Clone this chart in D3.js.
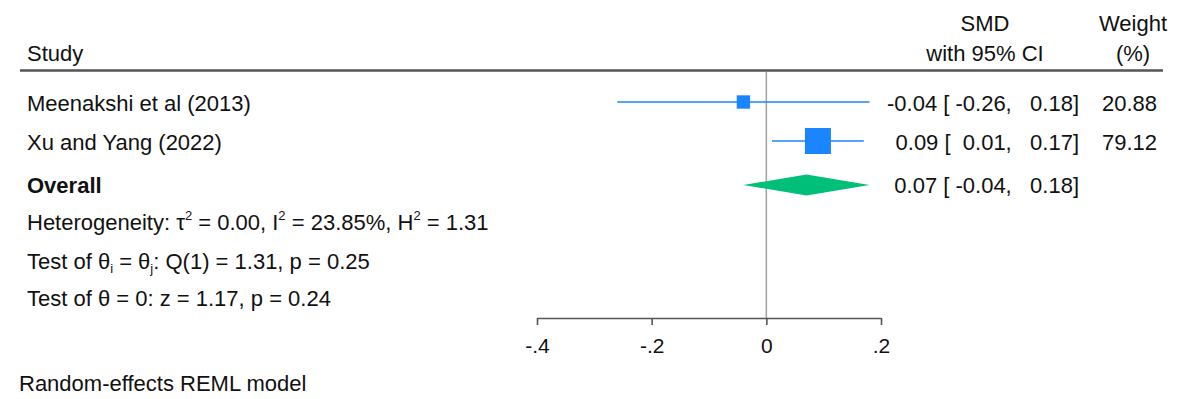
<!DOCTYPE html>
<html>
<head>
<meta charset="utf-8">
<script src="https://cdn.jsdelivr.net/npm/d3@7"></script>
<style>
  html, body { margin: 0; padding: 0; background: #fff; }
  svg { display: block; }
  text { font-family: "Liberation Sans", Arial, sans-serif; fill: #111; white-space: pre; }
</style>
</head>
<body>
<svg id="chart" width="1180" height="399"></svg>
<script>
// Study-level results
const studies = ["Meenakshi et al (2013)", "Xu and Yang (2022)"];
const smd = [-0.04, 0.09];
const ciLow = [-0.26, 0.01];
const ciHigh = [0.18, 0.17];
const weights = [20.88, 79.12];

// Pooled random-effects estimate
const overallLabel = "Overall";
const overallSMD = 0.07;
const overallLow = -0.04;
const overallHigh = 0.18;

// Axis ticks
const tickValues = [-0.4, -0.2, 0, 0.2];
const tickLabels = ["-.4", "-.2", "0", ".2"];

const W = 1180, H = 399;
const FS = 22;
const svg = d3.select("#chart");
svg.append("rect").attr("width", W).attr("height", H).attr("fill", "#fff");

const x = d3.scaleLinear().domain([-0.4, 0.2]).range([537, 881]);
const rowY = d3.scaleLinear().domain([0, 1]).range([102, 141]);
const overallY = 185;
const side = d3.scaleSqrt().domain([0, d3.max(weights)]).range([0, 26]);

const blue = "#1a85ff";
const green = "#00bf78";

const pad = v => { const s = v.toFixed(2); return s.length < 5 ? " " + s : s; };
const ciText = (e, l, h) => `${pad(e)} [ ${pad(l)},  ${pad(h)}]`;

// Column headers
const txt = (xp, yp, s, anchor, weight) => svg.append("text")
  .attr("x", xp).attr("y", yp).attr("font-size", FS)
  .attr("text-anchor", anchor || "start")
  .attr("font-weight", weight || "normal").text(s);

txt(27, 61, "Study");
txt(985, 31, "SMD", "middle");
txt(985, 61, "with 95% CI", "middle");
txt(1133, 31, "Weight", "middle");
txt(1133, 61, "(%)", "middle");

svg.append("line").attr("x1", 20).attr("x2", 1163).attr("y1", 70.5).attr("y2", 70.5)
  .attr("stroke", "#555").attr("stroke-width", 2.5);

// Zero reference line
svg.append("line").attr("x1", x(0)).attr("x2", x(0)).attr("y1", 72).attr("y2", 318)
  .attr("stroke", "#a6a6a6").attr("stroke-width", 1.6);

// Study rows
const rows = svg.append("g").selectAll("g").data(studies).join("g");
rows.append("line")
  .attr("x1", (d, i) => x(ciLow[i])).attr("x2", (d, i) => x(ciHigh[i]))
  .attr("y1", (d, i) => rowY(i)).attr("y2", (d, i) => rowY(i))
  .attr("stroke", blue).attr("stroke-opacity", 0.75).attr("stroke-width", 2);
rows.append("rect")
  .attr("x", (d, i) => x(smd[i]) - side(weights[i]) / 2)
  .attr("y", (d, i) => rowY(i) - side(weights[i]) / 2)
  .attr("width", (d, i) => side(weights[i]))
  .attr("height", (d, i) => side(weights[i]))
  .attr("fill", blue);
rows.append("text")
  .attr("x", 27).attr("y", (d, i) => rowY(i) + 8.5).attr("font-size", FS).text(d => d);
rows.append("text")
  .attr("x", 1079).attr("y", (d, i) => rowY(i) + 8.5).attr("font-size", FS)
  .attr("text-anchor", "end").text((d, i) => ciText(smd[i], ciLow[i], ciHigh[i]));
rows.append("text")
  .attr("x", 1157).attr("y", (d, i) => rowY(i) + 8.5).attr("font-size", FS)
  .attr("text-anchor", "end").text((d, i) => weights[i].toFixed(2));

// Overall diamond
const dh = 10.5;
svg.append("path")
  .attr("d", `M${x(overallLow)},${overallY} L${x(overallSMD)},${overallY - dh} L${x(overallHigh)},${overallY} L${x(overallSMD)},${overallY + dh} Z`)
  .attr("fill", green);
txt(27, overallY + 8, overallLabel, "start", "bold");
txt(1079, overallY + 8, ciText(overallSMD, overallLow, overallHigh), "end");

// Heterogeneity and test statistics, with raised / lowered index characters
function rich(yp, parts) {
  const t = svg.append("text").attr("x", 27).attr("y", yp).attr("font-size", FS);
  let carry = 0;
  parts.forEach(p => {
    if (typeof p === "string") {
      t.append("tspan").attr("dy", carry).text(p);
      carry = 0;
    } else if (p.sup) {
      t.append("tspan").attr("font-size", 13).attr("dy", carry - 10).text(p.sup);
      carry = 10;
    } else if (p.sub) {
      t.append("tspan").attr("font-size", 13).attr("dy", carry + 4).text(p.sub);
      carry = -4;
    }
  });
}
rich(230, ["Heterogeneity: \u03C4", { sup: "2" }, " = 0.00, I", { sup: "2" }, " = 23.85%, H", { sup: "2" }, " = 1.31"]);
rich(269, ["Test of \u03B8", { sub: "i" }, " = \u03B8", { sub: "j" }, ": Q(1) = 1.31, p = 0.25"]);
rich(306, ["Test of \u03B8 = 0: z = 1.17, p = 0.24"]);

// x axis
const axisG = svg.append("g").attr("transform", "translate(0,318)");
axisG.call(d3.axisBottom(x).tickValues(tickValues).tickSize(7).tickSizeOuter(0)
  .tickFormat((d, i) => tickLabels[i]));
axisG.select(".domain").attr("stroke", "#555").attr("stroke-width", 1.6);
axisG.selectAll(".tick line").attr("stroke", "#555").attr("stroke-width", 1.6);
axisG.selectAll(".tick text").attr("font-size", 21).attr("font-family", "Liberation Sans, Arial, sans-serif")
  .attr("fill", "#111").attr("dy", null).attr("y", 35);

txt(19, 391, "Random-effects REML model");
</script>
</body>
</html>
